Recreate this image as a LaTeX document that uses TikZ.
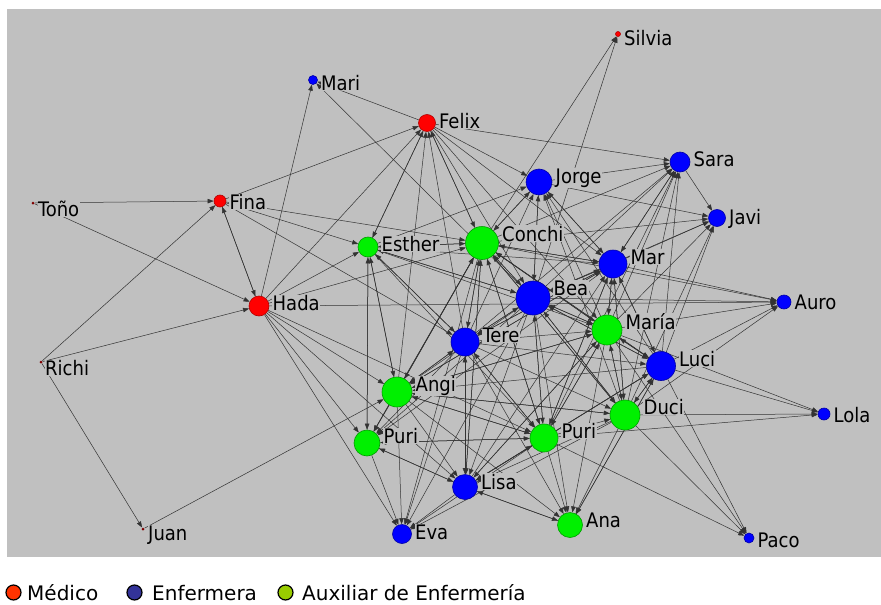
\documentclass[tikz,border=0pt]{standalone}
\usepackage{fontspec}
\setmainfont{DejaVu Sans}
\newfontfamily\labfont{DejaVu Sans Condensed}
\usetikzlibrary{arrows.meta}
\pgfdeclarelayer{bg}\pgfdeclarelayer{edges}\pgfdeclarelayer{labels}
\pgfsetlayers{bg,edges,labels,main}
\definecolor{panel}{HTML}{C0C0C0}
\definecolor{ngreen}{HTML}{00F000}
\definecolor{nblue}{HTML}{0000FF}
\definecolor{nred}{HTML}{FF0000}
\definecolor{ndark}{HTML}{800000}
\definecolor{legred}{HTML}{FF3300}
\definecolor{legblue}{HTML}{333399}
\definecolor{leggreen}{HTML}{99CC00}
\tikzset{
 pn/.style={circle,inner sep=0pt,minimum size=#1,line width=0.6pt},
 gn/.style={pn=#1,fill=ngreen,draw=ngreen!65!black},
 bn/.style={pn=#1,fill=nblue,draw=nblue!65!black},
 rn/.style={pn=#1,fill=nred,draw=nred!70!black},
 tn/.style={pn=3,fill=ndark,draw=none},
 lab/.style={anchor=base west,inner sep=0.5pt,fill=panel,font=\labfont\fontsize{20}{24}\selectfont},
 edge/.style={draw=black!80,line width=0.5pt,-{Triangle[length=6pt,width=4.5pt]}},
 legc/.style={circle,inner sep=0pt,minimum size=15pt,draw=black,line width=1.2pt},
 legt/.style={anchor=base west,inner sep=0pt,font=\fontsize{20}{24}\selectfont},
}
\begin{document}
\begin{tikzpicture}[x=1pt,y=-1pt]
\useasboundingbox (0,0) rectangle (881,605);
\begin{pgfonlayer}{bg}
\fill[white] (0,0) rectangle (881,605);
\fill[panel] (7,9) rectangle (881,557);
\end{pgfonlayer}
% nodes
\node[rn=5] (silvia) at (618,34) {};
\node[bn=9] (mari) at (313,80) {};
\node[rn=17] (felix) at (427,123) {};
\node[rn=12] (fina) at (220,201) {};
\node[tn] (tono) at (33,203) {};
\node[gn=20] (esther) at (368,247) {};
\node[gn=33] (conchi) at (482,243) {};
\node[bn=26] (jorge) at (539,182) {};
\node[bn=20] (sara) at (680,162) {};
\node[bn=17] (javi) at (717,218) {};
\node[bn=28] (mar) at (613,264) {};
\node[bn=34] (bea) at (533,298) {};
\node[bn=14] (auro) at (784,302) {};
\node[rn=20] (hada) at (259,306) {};
\node[gn=30] (maria) at (607,330) {};
\node[bn=28] (tere) at (465,342) {};
\node[bn=29] (luci) at (661,366) {};
\node[tn] (richi) at (41,362) {};
\node[gn=30] (angi) at (397,392) {};
\node[bn=12] (lola) at (824,414) {};
\node[gn=30] (duci) at (625,415) {};
\node[gn=26] (puril) at (367,443) {};
\node[gn=28] (purir) at (544,438) {};
\node[bn=25] (lisa) at (465,487) {};
\node[gn=25] (ana) at (570,525) {};
\node[bn=19] (eva) at (402,534) {};
\node[bn=10] (paco) at (749,538) {};
\node[tn] (juan) at (143,529) {};
% labels
\begin{pgfonlayer}{labels}
\node[lab] (silvia-l) at (623.5,45.5) {Silvia};
\node[lab] (mari-l) at (320.5,90) {Mari};
\node[lab] (felix-l) at (438.5,128.5) {Felix};
\node[lab] (fina-l) at (229,209.5) {Fina};
\node[lab] (tono-l) at (37.5,216.5) {Toño};
\node[lab] (esther-l) at (381,251.5) {Esther};
\node[lab] (conchi-l) at (501.5,241) {Conchi};
\node[lab] (jorge-l) at (555,183.5) {Jorge};
\node[lab] (sara-l) at (693,166.5) {Sara};
\node[lab] (javi-l) at (728.5,224) {Javi};
\node[lab] (mar-l) at (630,264.5) {Mar};
\node[lab] (bea-l) at (553,295.5) {Bea};
\node[lab] (auro-l) at (794,309) {Auro};
\node[lab] (hada-l) at (272,310.5) {Hada};
\node[lab] (maria-l) at (625,329.5) {María};
\node[lab] (tere-l) at (482,342.5) {Tere};
\node[lab] (luci-l) at (678.5,366) {Luci};
\node[lab] (richi-l) at (44.5,375.5) {Richi};
\node[lab] (angi-l) at (415,391.5) {Angi};
\node[lab] (lola-l) at (833,422.5) {Lola};
\node[lab] (duci-l) at (643,414.5) {Duci};
\node[lab] (puril-l) at (383,443.5) {Puri};
\node[lab] (purir-l) at (561,438.5) {Puri};
\node[lab] (lisa-l) at (480.5,489) {Lisa};
\node[lab] (ana-l) at (585.5,527) {Ana};
\node[lab] (eva-l) at (414.5,539.5) {Eva};
\node[lab] (paco-l) at (757,547.5) {Paco};
\node[lab] (juan-l) at (147.5,540.5) {Juan};
\end{pgfonlayer}
% edges
\begin{pgfonlayer}{edges}
\foreach \a/\b in {
 tono/fina, tono/hada, richi/fina, richi/hada, richi/juan, juan/angi,
 fina/hada, hada/fina, fina/felix, fina/esther, fina/conchi, fina/tere,
 hada/mari, felix/mari, bea/mari,
 hada/felix, hada/esther, hada/conchi, hada/angi, hada/puril, hada/eva, hada/lisa, hada/purir, hada/auro,
 felix/esther, felix/conchi, felix/jorge, felix/sara, felix/mar, felix/bea, felix/maria,
 esther/felix, conchi/felix, tere/felix, angi/felix,
 conchi/silvia, bea/silvia,
 conchi/jorge, bea/jorge, mar/jorge, maria/jorge, tere/jorge, luci/jorge, esther/jorge, duci/jorge,
 jorge/sara, jorge/javi, jorge/conchi, jorge/mar, jorge/bea,
 conchi/sara, mar/sara, bea/sara, maria/sara, luci/sara, duci/sara, purir/sara, tere/sara,
 conchi/javi, mar/javi, maria/javi, luci/javi, duci/javi, bea/javi, sara/javi,
 mar/auro, maria/auro, luci/auro, bea/auro, conchi/auro, duci/auro,
 luci/lola, duci/lola, purir/lola, maria/lola,
 duci/paco, purir/paco, luci/paco, maria/paco,
 conchi/mar, bea/mar, esther/mar, maria/mar, luci/mar, duci/mar, tere/mar, angi/mar, purir/mar, lisa/mar, sara/mar,
 esther/conchi, bea/conchi, mar/conchi, tere/conchi, angi/conchi, puril/conchi, purir/conchi, lisa/conchi, maria/conchi, duci/conchi, luci/conchi,
 conchi/esther, angi/esther, puril/esther, tere/esther, bea/esther,
 conchi/bea, mar/bea, maria/bea, tere/bea, luci/bea, duci/bea, purir/bea, esther/bea,
 conchi/tere, bea/tere, angi/tere, esther/tere, lisa/tere, purir/tere, mar/tere,
 conchi/maria, bea/maria, mar/maria, esther/maria, tere/maria, luci/maria, duci/maria, purir/maria, lisa/maria, angi/maria,
 maria/luci, mar/luci, bea/luci, conchi/luci, duci/luci, purir/luci, tere/luci, lisa/luci, ana/luci,
 maria/duci, luci/duci, bea/duci, mar/duci, purir/duci, tere/duci, conchi/duci, angi/duci,
 esther/angi, conchi/angi, tere/angi, bea/angi, mar/angi, maria/angi, luci/angi, duci/angi, purir/angi,
 angi/puril, esther/puril, conchi/puril, bea/puril, tere/puril, mar/puril, lisa/puril, purir/puril,
 tere/purir, bea/purir, conchi/purir, maria/purir, mar/purir, angi/purir, puril/purir, lisa/purir, esther/purir,
 angi/lisa, tere/lisa, conchi/lisa, bea/lisa, purir/lisa, duci/lisa, maria/lisa, ana/lisa, puril/lisa, luci/lisa,
 purir/ana, duci/ana, luci/ana, maria/ana, tere/ana, bea/ana, lisa/ana, angi/ana,
 puril/eva, angi/eva, tere/eva, conchi/eva, lisa/eva, purir/eva, duci/eva, bea/eva}
 \draw[edge] (\a) -- (\b);
\end{pgfonlayer}
% legend
\node[legc,fill=legred] (lg-med) at (13.5,592.5) {};
\node[legt] (lt-med) at (27,600.5) {Médico};
\node[legc,fill=legblue] (lg-enf) at (134.5,592.5) {};
\node[legt] (lt-enf) at (152,600.5) {Enfermera};
\node[legc,fill=leggreen] (lg-aux) at (285.5,592.5) {};
\node[legt] (lt-aux) at (302,600.5) {Auxiliar de Enfermería};
\end{tikzpicture}
\end{document}
